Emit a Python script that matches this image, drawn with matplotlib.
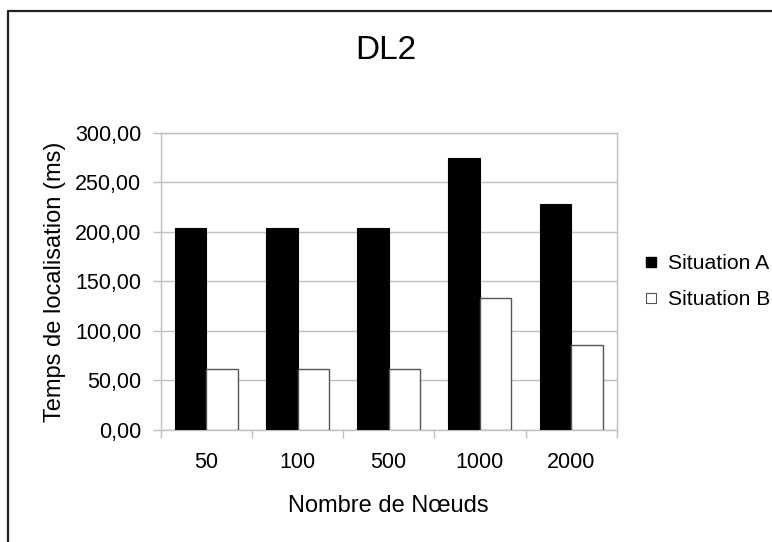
import matplotlib
matplotlib.use("Agg")
import matplotlib.pyplot as plt
from matplotlib.lines import Line2D
from matplotlib.ticker import FuncFormatter, FixedLocator
import numpy as np

plt.rcParams['font.family'] = ['Liberation Sans', 'DejaVu Sans']

categories = ["50", "100", "500", "1000", "2000"]
situation_a = [203.5, 203.5, 203.5, 274.0, 228.0]
situation_b = [62.0, 62.0, 62.0, 133.0, 86.0]
series_labels = ["Situation A", "Situation B"]

W, H = 772, 542
fig = plt.figure(figsize=(W / 100, H / 100), dpi=100)
ax = fig.add_axes([160.7 / W, 1 - 430 / H, (616.7 - 160.7) / W, (430 - 132.7) / H])

x = np.arange(len(categories))
bw = 0.345
ax.bar(x - bw / 2, situation_a, width=bw, color="black", edgecolor="black", linewidth=0.8, zorder=3)
ax.bar(x + bw / 2, situation_b, width=bw, color="white", edgecolor="#555555", linewidth=1.0, zorder=3)

ax.set_xlim(-0.5, len(categories) - 0.5)
ax.set_ylim(0, 300)
ax.set_yticks(np.arange(0, 301, 50))
ax.yaxis.set_major_formatter(FuncFormatter(lambda v, p: f"{v:.2f}".replace(".", ",")))
ax.grid(axis="y", color="#c0c0c0", linewidth=1.0, zorder=0)
ax.set_axisbelow(True)

ax.set_xticks(x)
ax.set_xticklabels(categories)
ax.xaxis.set_minor_locator(FixedLocator(np.arange(-0.5, len(categories), 1.0)))
ax.tick_params(axis="x", which="major", length=0, pad=16, labelsize=15.5)
ax.tick_params(axis="x", which="minor", length=6, color="#c0c0c0", width=1.0)
ax.tick_params(axis="y", which="major", length=5.5, color="#c0c0c0", width=1.0, pad=8.5, labelsize=15.5)

for s in ax.spines.values():
    s.set_color("#c0c0c0")
    s.set_linewidth(1.0)

ax.set_xlabel("Nombre de Nœuds", fontsize=17, va="center")
ax.xaxis.set_label_coords(0.5, (430 - 506) / (430 - 132.7))
ax.set_ylabel("Temps de localisation (ms)", fontsize=17, va="center")
ax.yaxis.set_label_coords((55 - 160.7) / (616.7 - 160.7), 0.5)

fig.text(386 / W, 1 - 51 / H, "DL2", fontsize=24, ha="center", va="center")

handles = [
    Line2D([], [], marker="s", linestyle="none", markersize=7.5, markerfacecolor="black", markeredgecolor="black"),
    Line2D([], [], marker="s", linestyle="none", markersize=7.5, markerfacecolor="white", markeredgecolor="#555555", markeredgewidth=0.8),
]
fig.legend(handles, series_labels, loc="center left", bbox_to_anchor=(644 / W, 1 - 281.5 / H),
           frameon=False, fontsize=15.2, handlelength=0.7, handletextpad=0.45, labelspacing=0.8,
           borderaxespad=0, borderpad=0)

# outer frame on the left and top edges
fig.add_artist(Line2D([8 / W, 8 / W, 1.0], [0.0, 1 - 11 / H, 1 - 11 / H],
                      transform=fig.transFigure, color="#222222", linewidth=1.6))

fig.savefig("out.png", dpi=100)
